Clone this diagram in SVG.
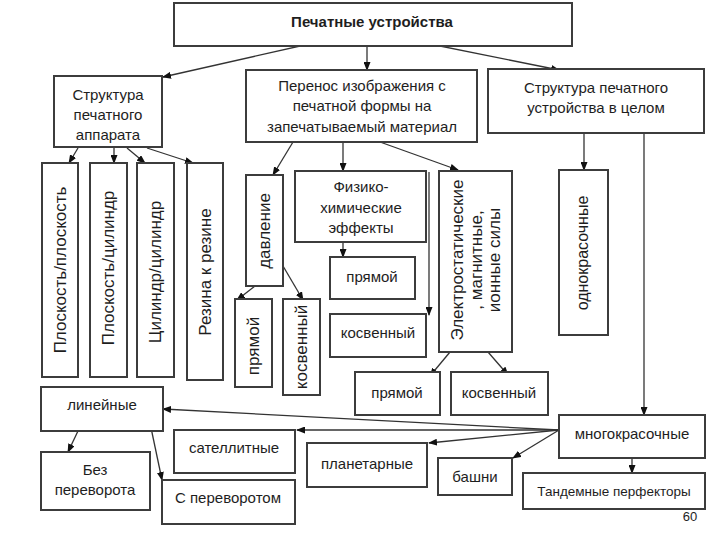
<svg xmlns="http://www.w3.org/2000/svg" width="720" height="540" viewBox="0 0 720 540">
<defs>
<style>
.b{fill:#fff;stroke:#3c3c3c;stroke-width:2}
.t{font-family:"Liberation Sans",Arial,sans-serif;font-size:15px;fill:#1e1e1e;text-anchor:middle}
.v{font-size:17px}
.tb{font-weight:bold}
.c{stroke:#333;stroke-width:1.3;fill:none;marker-end:url(#a)}
</style>
<marker id="a" markerWidth="9" markerHeight="7" refX="8" refY="3.5" orient="auto" markerUnits="userSpaceOnUse">
<path d="M0,0 L9,3.5 L0,7 z" fill="#111"/>
</marker>
</defs>
<rect width="720" height="540" fill="#fff"/>
<g id="connectors">
<line class="c" x1="318" y1="42" x2="163" y2="77"/>
<line class="c" x1="367" y1="46" x2="367" y2="70"/>
<line class="c" x1="415" y1="41" x2="559" y2="70"/>
<line class="c" x1="78" y1="148" x2="69" y2="163"/>
<line class="c" x1="114" y1="148" x2="114" y2="163"/>
<line class="c" x1="127" y1="148" x2="145" y2="163"/>
<line class="c" x1="147" y1="148" x2="193" y2="163"/>
<line class="c" x1="293" y1="142" x2="273" y2="175"/>
<line class="c" x1="343" y1="142" x2="343" y2="171"/>
<line class="c" x1="380" y1="142" x2="458" y2="170"/>
<line class="c" x1="343" y1="220" x2="343" y2="257"/>
<line class="c" x1="429" y1="172" x2="429" y2="315"/>
<line class="c" x1="255" y1="286" x2="237" y2="300"/>
<line class="c" x1="283" y1="266" x2="303" y2="300"/>
<line class="c" x1="450" y1="352" x2="430" y2="376"/>
<line class="c" x1="488" y1="352" x2="508" y2="375"/>
<line class="c" x1="584" y1="133" x2="584" y2="170"/>
<line class="c" x1="644" y1="133" x2="644" y2="415"/>
<line class="c" x1="559" y1="430" x2="163" y2="409"/>
<line class="c" x1="559" y1="430" x2="297" y2="430"/>
<line class="c" x1="559" y1="430" x2="429" y2="443"/>
<line class="c" x1="559" y1="430" x2="513" y2="458"/>
<line class="c" x1="632" y1="458" x2="632" y2="473"/>
<line class="c" x1="78" y1="431" x2="68" y2="452"/>
<line class="c" x1="150" y1="423" x2="162" y2="480"/>
</g>
<g id="n-top"><rect class="b" x="174" y="3" width="398" height="43"/><text class="t tb" x="372" y="27">Печатные устройства</text></g>
<g id="n-struct-app"><rect class="b" x="54" y="76" width="108" height="71"/><text class="t" x="108" y="100">Структура</text><text class="t" x="108" y="120">печатного</text><text class="t" x="108" y="140">аппарата</text></g>
<g id="n-perenos"><rect class="b" x="246" y="70" width="231" height="72"/><text class="t" x="362" y="91">Перенос изображения с</text><text class="t" x="362" y="111">печатной формы на</text><text class="t" x="362" y="132">запечатываемый материал</text></g>
<g id="n-struct-ust"><rect class="b" x="488" y="69" width="216" height="64"/><text class="t" x="596" y="93">Структура печатного</text><text class="t" x="596" y="113">устройства в целом</text></g>
<g id="n-v1"><rect class="b" x="42" y="163" width="36" height="214"/><text class="t v" transform="translate(60,270) rotate(-90)" y="6">Плоскость/плоскость</text></g>
<g id="n-v2"><rect class="b" x="90" y="163" width="37" height="214"/><text class="t v" transform="translate(108,268) rotate(-90)" y="6">Плоскость/цилиндр</text></g>
<g id="n-v3"><rect class="b" x="137" y="163" width="37" height="214"/><text class="t v" transform="translate(155,272) rotate(-90)" y="6">Цилиндр/цилиндр</text></g>
<g id="n-v4"><rect class="b" x="187" y="163" width="36" height="217"/><text class="t v" transform="translate(205,272) rotate(-90)" y="6">Резина к резине</text></g>
<g id="n-davl"><rect class="b" x="246" y="175" width="37" height="111"/><text class="t v" transform="translate(264,231) rotate(-90)" y="6">давление</text></g>
<g id="n-pryam-v"><rect class="b" x="235" y="299" width="37" height="88"/><text class="t v" transform="translate(253,346) rotate(-90)" y="6">прямой</text></g>
<g id="n-kosv-v"><rect class="b" x="283" y="299" width="37" height="96"/><text class="t v" transform="translate(301,347) rotate(-90)" y="6">косвенный</text></g>
<g id="n-fiz"><rect class="b" x="295" y="171" width="131" height="71"/><text class="t" x="361" y="192">Физико-</text><text class="t" x="361" y="213">химические</text><text class="t" x="361" y="233">эффекты</text></g>
<g id="n-pryam1"><rect class="b" x="330" y="257" width="85" height="42"/><text class="t" x="372" y="282">прямой</text></g>
<g id="n-kosv1"><rect class="b" x="330" y="314" width="96" height="43"/><text class="t" x="378" y="338">косвенный</text></g>
<g id="n-elec"><rect class="b" x="439" y="171" width="73" height="181"/><text class="t v" transform="translate(476,260) rotate(-90)"><tspan x="0" y="-13">Электростатические</tspan><tspan x="0" y="6">, магнитные,</tspan><tspan x="0" y="24">ионные силы</tspan></text></g>
<g id="n-pryam2"><rect class="b" x="355" y="372" width="85" height="43"/><text class="t" x="397" y="398">прямой</text></g>
<g id="n-kosv2"><rect class="b" x="451" y="372" width="97" height="43"/><text class="t" x="499" y="398">косвенный</text></g>
<g id="n-odno"><rect class="b" x="559" y="170" width="49" height="165"/><text class="t v" style="font-size:16px" transform="translate(582,253) rotate(-90)" y="6">однокрасочные</text></g>
<g id="n-mnogo"><rect class="b" x="559" y="415" width="146" height="43"/><text class="t" x="632" y="439">многокрасочные</text></g>
<g id="n-tandem"><rect class="b" x="523" y="473" width="182" height="36"/><text class="t" style="font-size:13.5px" x="614" y="496">Тандемные перфекторы</text></g>
<g id="n-bashni"><rect class="b" x="438" y="458" width="74" height="37"/><text class="t" x="475" y="482">башни</text></g>
<g id="n-planet"><rect class="b" x="307" y="443" width="120" height="44"/><text class="t" x="367" y="469">планетарные</text></g>
<g id="n-satel"><rect class="b" x="174" y="430" width="121" height="43"/><text class="t" x="234" y="453">сателлитные</text></g>
<g id="n-lin"><rect class="b" x="41" y="387" width="122" height="44"/><text class="t" x="102" y="410">линейные</text></g>
<g id="n-bez"><rect class="b" x="41" y="452" width="109" height="58"/><text class="t" x="95" y="475">Без</text><text class="t" x="95" y="495">переворота</text></g>
<g id="n-sper"><rect class="b" x="162" y="480" width="133" height="44"/><text class="t" x="228" y="503">С переворотом</text></g>
<text class="t" x="690" y="521" style="font-size:13px">60</text>
</svg>
